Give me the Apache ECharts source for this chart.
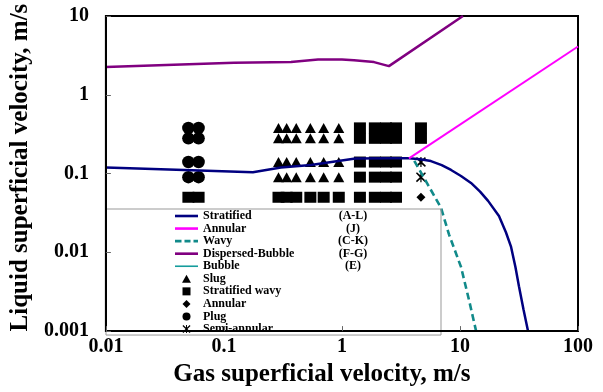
<!DOCTYPE html>
<html>
<head>
<meta charset="utf-8">
<script src="https://cdn.jsdelivr.net/npm/echarts@6/dist/echarts.min.js"></script>
<style>
html,body{margin:0;padding:0;background:#fff;}
#chart{width:603px;height:392px;}
</style>
</head>
<body>
<div id="chart"></div>
<script>
// Tick labels
const xTickLabels = ['0.01', '0.1', '1', '10', '100'];
const yTickLabels = ['0.001', '0.01', '0.1', '1', '10'];

// Transition boundaries [gas velocity, liquid velocity]
const stratifiedLine = [[0.01,0.119],[0.046,0.111],[0.176,0.104],[0.304,0.119],[0.546,0.128],[1.3,0.155],[2.6,0.156],[3.7,0.156],[4.6,0.152],[5.67,0.144],[7.0,0.128],[8.4,0.111],[10.2,0.093],[12.4,0.076],[14.8,0.059],[17.3,0.045],[21.4,0.029],[24.5,0.018],[27.1,0.0117],[29.5,0.0065],[31.6,0.0037],[34.5,0.0019],[37.7,0.001]];
const annularLine = [[3.7,0.156],[100,4.1]];
const wavyLine = [[4.1,0.145],[5.36,0.0718],[6.9,0.0369],[8.07,0.0169],[10.2,0.00653],[11.9,0.00252],[13.7,0.001]];
const dispersedBubbleLine = [[0.01,2.25],[0.1216,2.55],[0.37,2.6],[0.627,2.8],[1.0,2.8],[1.265,2.75],[1.87,2.6],[2.5,2.31],[10.6,10]];
const bubbleLine = [];

// Observed flow patterns [gas velocity, liquid velocity]
const slugPoints = [
  [0.29,0.38],[0.34,0.38],[0.41,0.38],[0.54,0.38],[0.7,0.38],[0.94,0.38],
  [0.29,0.28],[0.34,0.28],[0.41,0.28],[0.54,0.28],[0.7,0.28],[0.94,0.28],
  [0.29,0.14],[0.34,0.14],[0.41,0.14],[0.54,0.14],[0.7,0.14],[0.94,0.14],
  [0.29,0.09],[0.34,0.09],[0.41,0.09],[0.54,0.09],[0.7,0.09],[0.94,0.09]
];
const stratifiedWavyPoints = [
  [0.05,0.05],[0.061,0.05],[0.29,0.05],[0.34,0.05],[0.41,0.05],[0.54,0.05],[0.7,0.05],[0.94,0.05],
  [1.42,0.05],[1.9,0.05],[2.36,0.05],[2.87,0.05],
  [1.42,0.09],[1.9,0.09],[2.36,0.09],[2.87,0.09],
  [1.42,0.14],[1.9,0.14],[2.36,0.14],[2.87,0.14],
  [1.42,0.28],[1.9,0.28],[2.36,0.28],[2.87,0.28],[4.67,0.28],
  [1.42,0.38],[1.9,0.38],[2.36,0.38],[2.87,0.38],[4.67,0.38]
];
const annularPoints = [[4.67,0.05]];
const plugPoints = [
  [0.05,0.38],[0.061,0.38],[0.05,0.28],[0.061,0.28],
  [0.05,0.14],[0.061,0.14],[0.05,0.09],[0.061,0.09]
];
const semiAnnularPoints = [[4.67,0.14],[4.67,0.09]];

// Legend codes
const legendCodes = {
  'Stratified': '(A-L)',
  'Annular': '(J)',
  'Wavy': '(C-K)',
  'Dispersed-Bubble': '(F-G)',
  'Bubble': '(E)'
};

const FONT = '"Liberation Serif", "Times New Roman", serif';
const X_PATH = 'path://M1,0 L5,3.6 L9,0 L10,1.2 L6.2,5 L10,8.8 L9,10 L5,6.4 L1,10 L0,8.8 L3.8,5 L0,1.2 Z M4.4,0 L5.6,0 L5.6,10 L4.4,10 Z';
const ICON_LINE = 'path://M0,0H23V2.6H0Z';
const ICON_THIN = 'path://M0,0H23V1.6H0Z';
const ICON_DASH = 'path://M0,0H6.5V2.8H0Z M9.5,0H15.5V2.8H9.5Z M18.5,0H23V2.8H18.5Z';
const ICON_TRI = 'path://M5,0L10,9L0,9Z';
const ICON_SQ = 'path://M0,0H10V10H0Z';
const ICON_DIA = 'path://M5,0L10,5L5,10L0,5Z';

const chart = echarts.init(document.getElementById('chart'), null, {renderer: 'canvas'});

function lineSeries(name, data, color, width, type) {
  return {
    name: name, type: 'line', data: data, symbol: 'none', showSymbol: false, z: 3,
    lineStyle: {color: color, width: width, type: type || 'solid'},
    itemStyle: {color: color},
    clip: true, silent: true
  };
}
function scatterSeries(name, data, symbol, size) {
  return {
    name: name, type: 'scatter', data: data, symbol: symbol, symbolSize: size, z: 2,
    itemStyle: {color: '#000', opacity: 1}, silent: true
  };
}

const option = {
  animation: false,
  backgroundColor: '#fff',
  grid: {left: 105, right: 25, top: 16, bottom: 57, show: true, borderColor: '#000', borderWidth: 2, backgroundColor: 'transparent'},
  xAxis: {
    type: 'log', logBase: 10, min: 0.01, max: 100, z: 10,
    name: 'Gas superficial velocity, m/s', nameLocation: 'middle', nameGap: 24,
    nameTextStyle: {fontFamily: FONT, fontWeight: 'bold', fontSize: 25, color: '#000', padding: [0, 40, 0, 0]},
    axisLine: {show: true, lineStyle: {color: '#000', width: 2}},
    axisTick: {show: true, inside: true, length: 5, lineStyle: {color: '#666', width: 1}},
    minorTick: {show: false},
    splitLine: {show: false},
    axisLabel: {
      margin: 6, fontFamily: FONT, fontWeight: 'bold', fontSize: 20, color: '#000',
      showMinLabel: true, showMaxLabel: true,
      formatter: v => xTickLabels[Math.round(Math.log10(v)) + 2]
    }
  },
  yAxis: {
    type: 'log', logBase: 10, min: 0.001, max: 10, z: 10,
    name: 'Liquid superficial velocity, m/s', nameLocation: 'middle', nameGap: 62,
    nameTextStyle: {fontFamily: FONT, fontWeight: 'bold', fontSize: 25, color: '#000', padding: [0, 0, 0, 12]},
    axisLine: {show: true, lineStyle: {color: '#000', width: 2}},
    axisTick: {show: true, inside: true, length: 5, lineStyle: {color: '#666', width: 1}},
    splitLine: {show: false},
    axisLabel: {
      margin: 17, fontFamily: FONT, fontWeight: 'bold', fontSize: 20, color: '#000',
      showMinLabel: true, showMaxLabel: true,
      formatter: v => yTickLabels[Math.round(Math.log10(v)) + 3]
    }
  },
  legend: {
    orient: 'vertical', left: 106, top: 209,
    padding: [1, 68, 0, 69],
    borderColor: '#999', borderWidth: 1, backgroundColor: 'transparent',
    itemWidth: 23, itemHeight: 8, itemGap: 0.56,
    selectedMode: false, z: 4,
    formatter: function (name) {
      const n = name.trim();
      const code = legendCodes[name];
      return code ? '{a|' + n + '}{b|' + code + '}' : '{a|' + n + '}';
    },
    textStyle: {
      color: '#000', fontFamily: FONT, fontWeight: 'bold', fontSize: 12, lineHeight: 12,
      rich: {
        a: {width: 130, fontFamily: FONT, fontWeight: 'bold', fontSize: 12, lineHeight: 12, color: '#000'},
        b: {width: 40, align: 'center', fontFamily: FONT, fontWeight: 'bold', fontSize: 12, lineHeight: 12, color: '#000'}
      }
    },
    data: [
      {name: 'Stratified', icon: ICON_LINE},
      {name: 'Annular', icon: ICON_LINE},
      {name: 'Wavy', icon: ICON_DASH},
      {name: 'Dispersed-Bubble', icon: ICON_LINE},
      {name: 'Bubble', icon: ICON_THIN},
      {name: 'Slug', icon: ICON_TRI},
      {name: 'Stratified wavy', icon: ICON_SQ},
      {name: 'Annular ', icon: ICON_DIA},
      {name: 'Plug', icon: 'circle'},
      {name: 'Semi-annular', icon: X_PATH}
    ]
  },
  series: [
    lineSeries('Stratified', stratifiedLine, '#000080', 2.5),
    lineSeries('Annular', annularLine, '#ff00ff', 2),
    lineSeries('Wavy', wavyLine, '#118a8a', 2.6, [7, 4]),
    lineSeries('Dispersed-Bubble', dispersedBubbleLine, '#800080', 2.5),
    lineSeries('Bubble', bubbleLine, '#159c9c', 1.6),
    scatterSeries('Slug', slugPoints, 'triangle', [11, 10]),
    scatterSeries('Stratified wavy', stratifiedWavyPoints, 'rect', [12, 11]),
    scatterSeries('Annular ', annularPoints, 'diamond', [9, 9]),
    scatterSeries('Plug', plugPoints, 'circle', 12.5),
    scatterSeries('Semi-annular', semiAnnularPoints, X_PATH, 10)
  ]
};
chart.setOption(option);
</script>
</body>
</html>
